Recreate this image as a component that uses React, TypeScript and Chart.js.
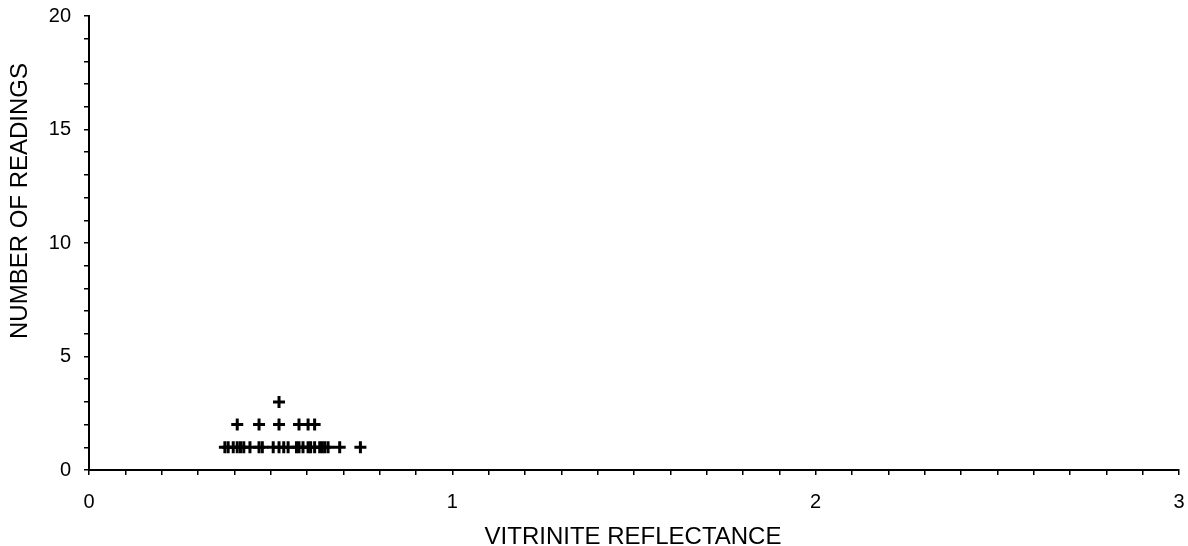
import React, { useEffect, useRef } from "react";
import { Chart, registerables } from "chart.js";

Chart.register(...registerables);

// Vitrinite reflectance readings and how many readings share each value
const reflectance = [
  0.374, 0.383, 0.397, 0.408, 0.417, 0.426, 0.443, 0.468, 0.477, 0.507, 0.523, 0.536, 0.548,
  0.571, 0.578, 0.589, 0.603, 0.61, 0.621, 0.635, 0.642, 0.649, 0.658, 0.69, 0.747,
];
const readingCounts = [
  1, 1, 1, 2, 1, 1, 1, 2, 1, 1, 3, 1, 1,
  1, 2, 1, 2, 1, 2, 1, 1, 1, 1, 1, 1,
];
const xTitle = "VITRINITE REFLECTANCE";
const yTitle = "NUMBER OF READINGS";
const xLabelValues = [0, 1, 2, 3];
const yLabelValues = [0, 5, 10, 15, 20];

const FAMILY = "'Liberation Sans', Arial, sans-serif";

const axisTitles = {
  id: "axisTitles",
  afterDraw(chart: any) {
    const ctx = chart.ctx;
    ctx.save();
    ctx.fillStyle = "#000";
    ctx.font = `24px ${FAMILY}`;
    ctx.textAlign = "center";
    ctx.textBaseline = "alphabetic";
    ctx.fillText(xTitle, 633, 544);
    ctx.translate(27, 201);
    ctx.rotate(-Math.PI / 2);
    ctx.fillText(yTitle, 0, 0);
    ctx.restore();
  },
};

const zeroPad = (s: any) => {
  s.paddingTop = 0;
  s.paddingBottom = 0;
  s.paddingLeft = 0;
  s.paddingRight = 0;
};

export default function App() {
  const ref = useRef<HTMLCanvasElement | null>(null);

  useEffect(() => {
    document.body.style.margin = "0";
    const points: { x: number; y: number }[] = [];
    reflectance.forEach((r, i) => {
      for (let k = 1; k <= readingCounts[i]; k++) points.push({ x: r, y: k });
    });
    const font = { family: FAMILY, size: 20 };
    const chart = new Chart(ref.current as HTMLCanvasElement, {
      type: "scatter",
      data: {
        datasets: [
          {
            data: points,
            pointStyle: "cross",
            pointRadius: 6,
            pointBorderWidth: 3,
            borderColor: "#000",
            backgroundColor: "#000",
          },
        ],
      },
      options: {
        animation: false,
        responsive: false,
        layout: { padding: { top: 16, right: 8, left: 0, bottom: 0 } },
        plugins: { legend: { display: false }, tooltip: { enabled: false } },
        scales: {
          x: {
            type: "linear",
            min: 0,
            max: 3,
            border: { display: true, color: "#000", width: 2 },
            grid: { display: true, drawOnChartArea: false, drawTicks: true, tickLength: 5, color: "#000", lineWidth: 1.5 },
            ticks: {
              stepSize: 0.1,
              autoSkip: false,
              maxRotation: 0,
              padding: 15,
              color: "#000",
              font,
              callback: (v: any) => {
                const n = Number(v);
                const m = xLabelValues.find((t) => Math.abs(t - n) < 1e-6);
                return m === undefined ? "" : String(m);
              },
            },
            title: { display: false },
            afterFit: (s: any) => {
              s.height = 76;
              zeroPad(s);
            },
          },
          y: {
            type: "linear",
            min: 0,
            max: 20,
            border: { display: true, color: "#000", width: 2 },
            grid: { display: true, drawOnChartArea: false, drawTicks: true, tickLength: 5, color: "#000", lineWidth: 1.5 },
            ticks: {
              stepSize: 1,
              autoSkip: false,
              padding: 13,
              color: "#000",
              font,
              callback: (v: any) => {
                const n = Number(v);
                const m = yLabelValues.find((t) => Math.abs(t - n) < 1e-6);
                return m === undefined ? "" : String(m);
              },
            },
            title: { display: false },
            afterFit: (s: any) => {
              s.width = 89;
              zeroPad(s);
            },
          },
        },
      },
      plugins: [axisTitles],
    } as any);
    return () => chart.destroy();
  }, []);

  return (
    <div style={{ width: 1188, height: 546, background: "#fff" }}>
      <canvas ref={ref} width={1188} height={546} />
    </div>
  );
}
